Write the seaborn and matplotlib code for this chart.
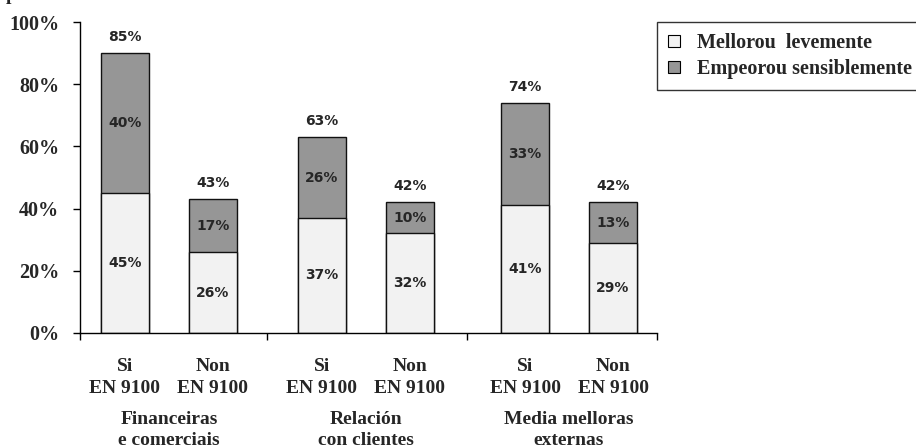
import matplotlib
matplotlib.use("Agg")
import matplotlib.pyplot as plt
import matplotlib.transforms as mtransforms
from matplotlib.patches import Patch
from matplotlib.ticker import FixedLocator, PercentFormatter
import seaborn as sns
import pandas as pd
import numpy as np

# ---------------- data ----------------
bar_labels = ["Si\nEN 9100", "Non\nEN 9100", "Si\nEN 9100", "Non\nEN 9100", "Si\nEN 9100", "Non\nEN 9100"]
group_labels = ["Financeiras\ne comerciais", "Relación\ncon clientes", "Media melloras\nexternas"]
series_names = ["Mellorou  levemente", "Empeorou sensiblemente"]
mellorou = [45, 26, 37, 32, 41, 29]           # lower segment heights (as drawn)
empeorou = [45, 17, 26, 10, 33, 13]           # upper segment heights (as drawn)
mellorou_text = [45, 26, 37, 32, 41, 29]      # printed labels
empeorou_text = [40, 17, 26, 10, 33, 13]
total_text = [85, 43, 63, 42, 74, 42]
y_ticks = [0, 20, 40, 60, 80, 100]

# ---------------- layout / style ----------------
W, H, DPI = 916, 447, 100
light = "#F2F2F2"
dark = "#969696"
serif = ["Liberation Serif", "DejaVu Serif"]
sans = ["DejaVu Sans"]
pos = [0.0, 1.0, 2.24, 3.24, 4.55, 5.55]       # bar centres on native scale
bar_w = 0.545

sns.set_style("white")
plt.rcParams["font.family"] = serif
plt.rcParams["font.weight"] = "bold"

fig = plt.figure(figsize=(W / DPI, H / DPI), dpi=DPI)
ax = fig.add_axes([80 / W, 1 - 333 / H, (657 - 80) / W, (333 - 22) / H])

totals = [a + b for a, b in zip(mellorou, empeorou)]
df = pd.DataFrame({"pos": pos, "total": totals, "low": mellorou})

sns.barplot(data=df, x="pos", y="total", native_scale=True, orient="x",
            color=dark, saturation=1, width=bar_w, edgecolor="#111111",
            linewidth=1.0, ax=ax)
sns.barplot(data=df, x="pos", y="low", native_scale=True, orient="x",
            color=light, saturation=1, width=bar_w, edgecolor="#111111",
            linewidth=1.0, ax=ax)

ax.set_xlim(-0.51, 6.05)
ax.set_ylim(0, 100)
ax.set_xlabel("")
ax.set_ylabel("")

for s in ["top", "right"]:
    ax.spines[s].set_visible(False)
for s in ["left", "bottom"]:
    ax.spines[s].set_color("black")
    ax.spines[s].set_linewidth(1.0)

ax.set_yticks(y_ticks)
ax.yaxis.set_major_formatter(PercentFormatter(decimals=0))
ax.tick_params(axis="y", direction="out", length=5, width=1.0, color="black",
               pad=10, labelsize=14.5, left=True)
for t in ax.get_yticklabels():
    t.set_fontweight("bold")

# x: labels at bars, separators as minor ticks
ax.set_xticks(pos)
ax.set_xticklabels(bar_labels, fontsize=14, fontweight="bold", linespacing=1.4)
ax.tick_params(axis="x", which="major", length=0, pad=18)
seps = [-0.51, (pos[1] + pos[2]) / 2, (pos[3] + pos[4]) / 2, 6.05]
ax.xaxis.set_minor_locator(FixedLocator(seps))
ax.tick_params(axis="x", which="minor", direction="out", length=5, width=1.0,
               color="black", bottom=True)

# value labels
for x, lo, hi, tl, th, tt in zip(pos, mellorou, empeorou, mellorou_text, empeorou_text, total_text):
    ax.text(x, lo / 2, f"{tl}%", ha="center", va="center", fontsize=10,
            fontweight="bold", family=sans)
    ax.text(x, lo + hi / 2, f"{th}%", ha="center", va="center", fontsize=10,
            fontweight="bold", family=sans)
    ax.text(x, lo + hi + 3.0, f"{tt}%", ha="center", va="bottom", fontsize=10,
            fontweight="bold", family=sans)

# group labels
trans = mtransforms.blended_transform_factory(ax.transData, fig.transFigure)
for g, lab in enumerate(group_labels):
    xc = (pos[2 * g] + pos[2 * g + 1]) / 2
    ax.text(xc, 1 - 430 / H, lab, transform=trans, ha="center", va="center",
            fontsize=14, fontweight="bold", linespacing=1.3, clip_on=False)

# clipped fragment at the top-left
fig.text(6 / W, 1.0, "p", ha="left", va="baseline", fontsize=14, fontweight="bold")

handles = [Patch(facecolor=light, edgecolor="black", linewidth=0.8),
           Patch(facecolor=dark, edgecolor="black", linewidth=0.8)]
leg = fig.legend(handles, series_names, loc="upper left",
                 bbox_to_anchor=(657 / W, 1 - 22 / H), borderaxespad=0,
                 frameon=True, fancybox=False, edgecolor="black",
                 prop={"family": serif, "weight": "bold", "size": 14.5},
                 handlelength=0.6, handleheight=0.6, handletextpad=0.85,
                 labelspacing=0.3, borderpad=0.55)
leg.get_frame().set_linewidth(1.0)

fig.savefig("out.png", dpi=DPI)
